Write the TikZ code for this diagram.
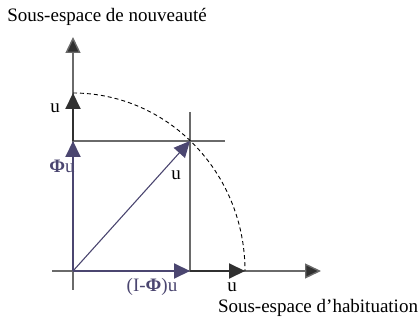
\documentclass[tikz,border=0pt]{standalone}
\usepackage{fontspec}
\setmainfont{Liberation Serif}
\usetikzlibrary{arrows.meta}
\definecolor{purp}{HTML}{4B4670}
\definecolor{darkc}{HTML}{303030}
\definecolor{axisc}{HTML}{6A6A6A}
\tikzset{
  tip/.style={-{Triangle[length=16pt,width=15pt,#1]}},
  axisline/.style={draw=axisc,line width=1.4pt},
  darkvec/.style={draw=darkc,line width=2pt,tip={}},
  purpvec/.style={draw=purp,line width=2pt,tip={}},
  lbl/.style={font=\fontsize{19}{21}\selectfont,inner sep=0pt},
  plbl/.style={lbl,text=purp},
}
\begin{document}
\begin{tikzpicture}[x=1pt,y=-1pt]
\useasboundingbox (0,0) rectangle (418,323);
\coordinate (O) at (73,271);
\coordinate (Ybot) at (73,290);
\coordinate (Ytop) at (73,37);
\coordinate (Xleft) at (52,271);
\coordinate (Xright) at (321,271);
\coordinate (Yu) at (73,93);
\coordinate (Yphi) at (73,141);
\coordinate (Xu) at (245,271);
\coordinate (Xphi) at (190,271);
\coordinate (P) at (190,141);
\coordinate (Hend) at (225,141);
\coordinate (Vtop) at (190,112);
% grid lines
\draw[axisline] (Yphi) -- (Hend);
\draw[axisline] (Vtop) -- (Xphi);
% axes
\draw[axisline,tip={fill=darkc}] (Ybot) -- (Ytop);
\draw[axisline,tip={fill=darkc}] (Xleft) -- (Xright);
% dashed arc
\draw[line width=0.9pt,dash pattern=on 4pt off 3pt] (Yu) arc[start angle=-90,end angle=0,x radius=172,y radius=178];
% vectors
\draw[darkvec] (Yphi) -- (Yu);
\draw[darkvec] (Xphi) -- (Xu);
\draw[purpvec] (O) -- (Yphi);
\draw[purpvec] (O) -- (Xphi);
\draw[draw=purp,line width=1.1pt,tip={}] (O) -- (P);
% labels
\node[lbl] (t1) at (107,17) {Sous-espace de nouveauté};
\node[lbl] (t2) at (318,308) {Sous-espace d’habituation};
\node[lbl] (lu1) at (55,108) {u};
\node[plbl] (lphi) at (62,166) {\textbf{Φ}u};
\node[lbl] (lu2) at (176,175) {u};
\node[plbl] (lip) at (152,287) {(I-\textbf{Φ})u};
\node[lbl] (lu3) at (232,287) {u};
\end{tikzpicture}
\end{document}
